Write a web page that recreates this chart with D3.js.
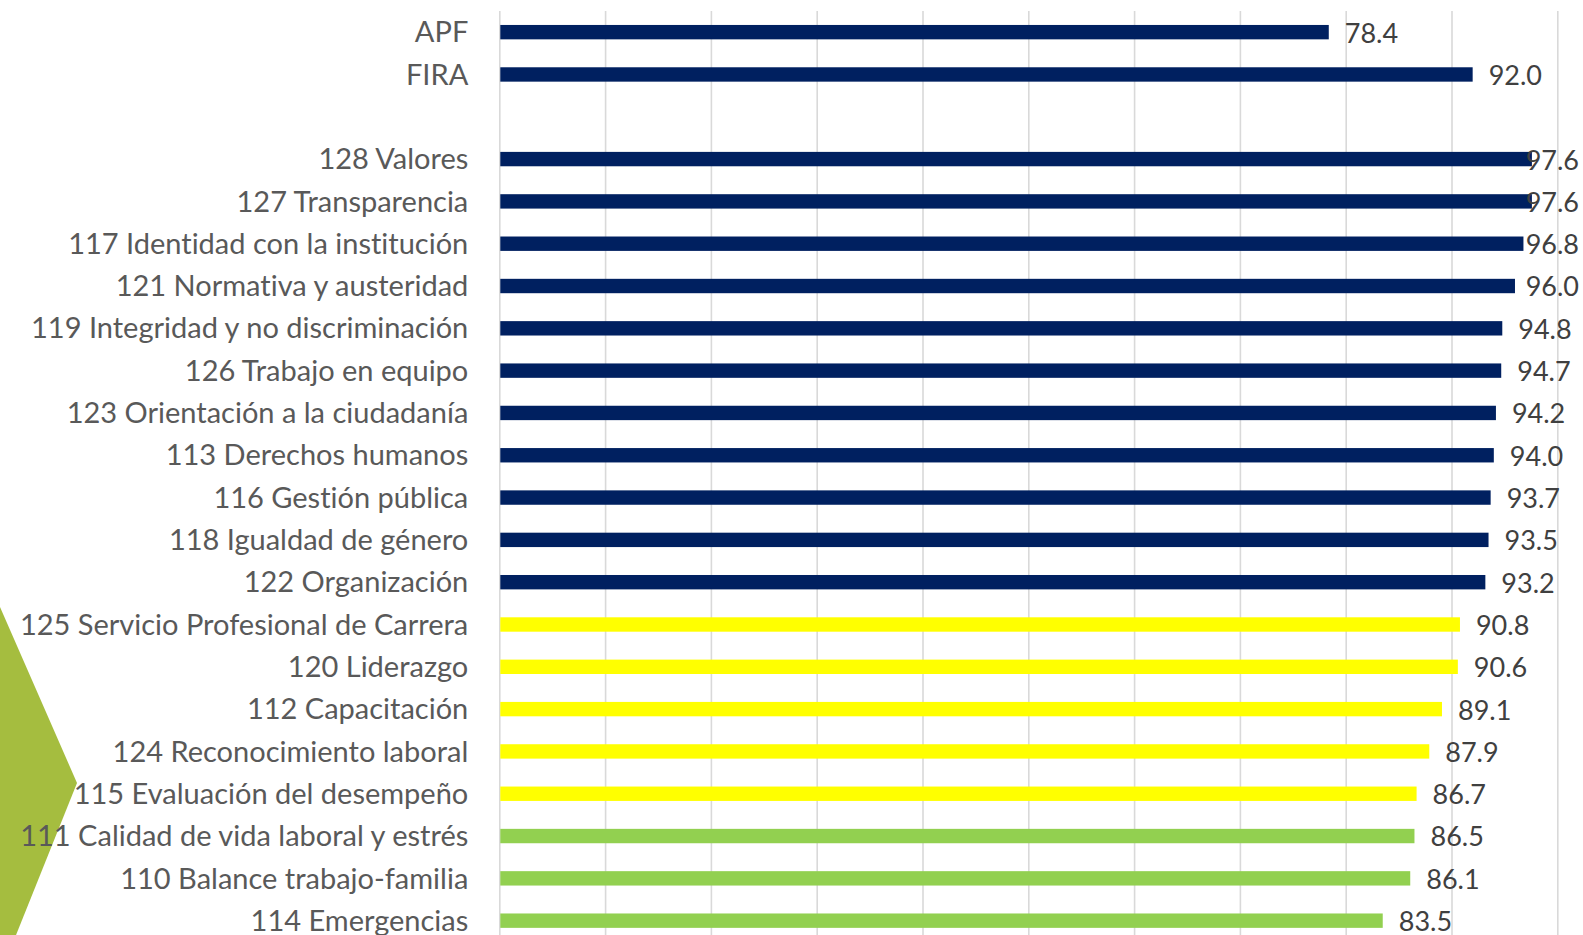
<!DOCTYPE html>
<html>
<head>
<meta charset="utf-8">
<script src="https://cdn.jsdelivr.net/npm/d3@7"></script>
<style>
  body { margin: 0; background: #fff; }
  text { font-family: Lato, "Open Sans", sans-serif; font-variant-ligatures: none; }
</style>
</head>
<body>
<div id="chart"></div>
<script>
const categories = [
  'APF', 'FIRA', '',
  '128 Valores', '127 Transparencia', '117 Identidad con la institución',
  '121 Normativa y austeridad', '119 Integridad y no discriminación',
  '126 Trabajo en equipo', '123 Orientación a la ciudadanía',
  '113 Derechos humanos', '116 Gestión pública', '118 Igualdad de género',
  '122 Organización', '125 Servicio Profesional de Carrera', '120 Liderazgo',
  '112 Capacitación', '124 Reconocimiento laboral', '115 Evaluación del desempeño',
  '111 Calidad de vida laboral y estrés', '110 Balance trabajo-familia',
  '114 Emergencias'
];
const values = [
  78.4, 92.0, null,
  97.6, 97.6, 96.8, 96.0, 94.8, 94.7, 94.2, 94.0, 93.7, 93.5, 93.2,
  90.8, 90.6, 89.1, 87.9, 86.7,
  86.5, 86.1, 83.5
];
const groups = [
  'ref', 'ref', null,
  'alto', 'alto', 'alto', 'alto', 'alto', 'alto', 'alto', 'alto', 'alto', 'alto', 'alto',
  'medio', 'medio', 'medio', 'medio', 'medio',
  'bajo', 'bajo', 'bajo'
];
const xTicks = [0, 10, 20, 30, 40, 50, 60, 70, 80, 90, 100];

const width = 1583,
      height = 935;

const colors = { ref: '#002060', alto: '#002060', medio: '#FFFF00', bajo: '#92D050' };

const rows = categories.map((c, i) => ({ id: i, label: c, value: values[i], group: groups[i] }));

const xScale = d3.scaleLinear()
    .domain([0, 100])
    .range([499.3, 1557.3]);

const yScale = d3.scaleBand()
    .domain(rows.map(d => d.id))
    .range([11, 11 + 22 * 42.31])
    .paddingInner(0.66)
    .paddingOuter(0.33);

const svg = d3.select('#chart')
    .append('svg')
    .attr('width', width)
    .attr('height', height);

// decorative green arrow on the left
svg.append('polygon')
    .attr('points', '0,607 77,783 0,975')
    .attr('fill', '#A5BD3F');

// gridlines
const grid = svg.append('g')
    .attr('transform', `translate(0, ${height + 10})`)
    .call(d3.axisBottom(xScale).tickValues(xTicks).tickSize(-(height + 10 - 11)).tickFormat(''));
grid.select('.domain').remove();
grid.selectAll('line').attr('stroke', '#D9D9D9').attr('stroke-width', 1.6);

// bars
svg.selectAll('rect.bar')
    .data(rows.filter(d => d.value != null))
    .enter().append('rect')
    .attr('class', 'bar')
    .attr('x', xScale(0) + 1)
    .attr('y', d => yScale(d.id))
    .attr('width', d => xScale(d.value) - xScale(0) - 1)
    .attr('height', yScale.bandwidth())
    .attr('fill', d => colors[d.group]);

// category labels
svg.selectAll('text.cat')
    .data(rows)
    .enter().append('text')
    .attr('class', 'cat')
    .attr('x', xScale(0) - 31)
    .attr('y', d => yScale(d.id) + yScale.bandwidth() / 2)
    .attr('dy', '0.35em')
    .attr('text-anchor', 'end')
    .attr('fill', '#595959')
    .style('font-size', '29px')
    .text(d => d.label);

// value labels
svg.selectAll('text.val')
    .data(rows.filter(d => d.value != null))
    .enter().append('text')
    .attr('class', 'val')
    .attr('y', d => yScale(d.id) + yScale.bandwidth() / 2 + 1)
    .attr('dy', '0.35em')
    .attr('fill', '#404040')
    .style('font-size', '27px')
    .text(d => d.value.toFixed(1))
    .attr('x', function(d) {
        const w = this.getComputedTextLength();
        return Math.min(xScale(d.value) + 16, width - 4 - w);
    });
</script>
</body>
</html>
